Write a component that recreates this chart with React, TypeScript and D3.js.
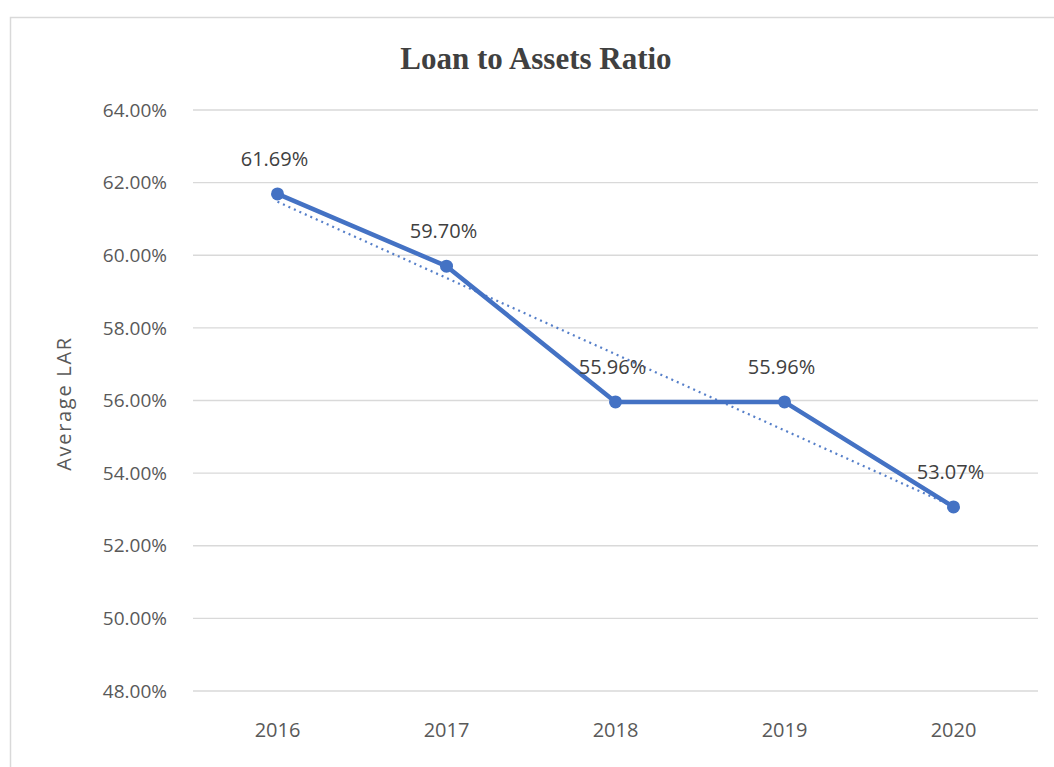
import React from "react";
import * as d3 from "d3";

const years = ["2016", "2017", "2018", "2019", "2020"];
const lar = [61.69, 59.7, 55.96, 55.96, 53.07];
const yTicks = [48, 50, 52, 54, 56, 58, 60, 62, 64];
const title = "Loan to Assets Ratio";
const yTitle = "Average LAR";

const W = 1054;
const H = 767;
const left = 193;
const right = 1038;
const top = 110;
const bottom = 691;
const blue = "#4472C4";
const font = "'Open Sans', 'Noto Sans', sans-serif";

export default function App() {
  const x = d3.scaleBand<string>().domain(years).range([left, right]);
  const cx = (d: string) => (x(d) as number) + x.bandwidth() / 2;
  const y = d3.scaleLinear().domain([48, 64]).range([bottom, top]);

  const pts = years.map((yr, i) => ({ yr, v: lar[i] }));
  const line = d3
    .line<{ yr: string; v: number }>()
    .x((d) => cx(d.yr))
    .y((d) => y(d.v));

  // linear trendline (least squares over index)
  const n = lar.length;
  const xs = lar.map((_, i) => i + 1);
  const mx = d3.mean(xs) as number;
  const my = d3.mean(lar) as number;
  const slope =
    d3.sum(xs.map((xi, i) => (xi - mx) * (lar[i] - my))) /
    d3.sum(xs.map((xi) => (xi - mx) ** 2));
  const icpt = my - slope * mx;
  const t0 = icpt + slope * 1;
  const t1 = icpt + slope * n;

  return (
    <svg
      width={W}
      height={H}
      style={{ position: "absolute", left: 0, top: 0, background: "#fff" }}
    >
      <rect x={10.5} y={17.5} width={1060} height={770} fill="#fff" stroke="#d9d9d9" strokeWidth={1.5} />
      <text
        x={536}
        y={69}
        textAnchor="middle"
        fontFamily="'Liberation Serif', 'Times New Roman', serif"
        fontWeight="bold"
        fontSize={31}
        fill="#404040"
      >
        {title}
      </text>
      {yTicks.map((t) => (
        <g key={t}>
          <line x1={left} x2={right} y1={y(t)} y2={y(t)} stroke="#d9d9d9" strokeWidth={1.3} />
          <text
            x={167}
            y={y(t)}
            dy="0.35em"
            textAnchor="end"
            fontFamily={font}
            fontSize={19}
            fill="#595959"
          >
            {t.toFixed(2) + "%"}
          </text>
        </g>
      ))}
      {years.map((yr) => (
        <text
          key={yr}
          x={cx(yr)}
          y={730}
          dy="0.35em"
          textAnchor="middle"
          fontFamily={font}
          fontSize={20}
          fill="#595959"
        >
          {yr}
        </text>
      ))}
      <text
        transform={`translate(64,${(top + bottom) / 2 + 3}) rotate(-90)`}
        textAnchor="middle"
        dy="0.35em"
        fontFamily={font}
        fontSize={20}
        letterSpacing={1.7}
        fill="#595959"
      >
        {yTitle}
      </text>
      <path d={line(pts) || ""} fill="none" stroke={blue} strokeWidth={4.5} strokeLinejoin="round" />
      <line
        x1={cx(years[0])}
        x2={cx(years[n - 1])}
        y1={y(t0)}
        y2={y(t1)}
        stroke={blue}
        strokeWidth={2.2}
        strokeDasharray="2 4"
        opacity={0.9}
      />
      {pts.map((p) => (
        <circle key={p.yr} cx={cx(p.yr)} cy={y(p.v)} r={6.5} fill={blue} />
      ))}
      {pts.map((p) => (
        <text
          key={"l" + p.yr}
          x={cx(p.yr) - 3}
          y={y(p.v) - 35}
          dy="0.35em"
          textAnchor="middle"
          fontFamily={font}
          fontSize={20}
          fill="#404040"
        >
          {p.v.toFixed(2) + "%"}
        </text>
      ))}
    </svg>
  );
}
